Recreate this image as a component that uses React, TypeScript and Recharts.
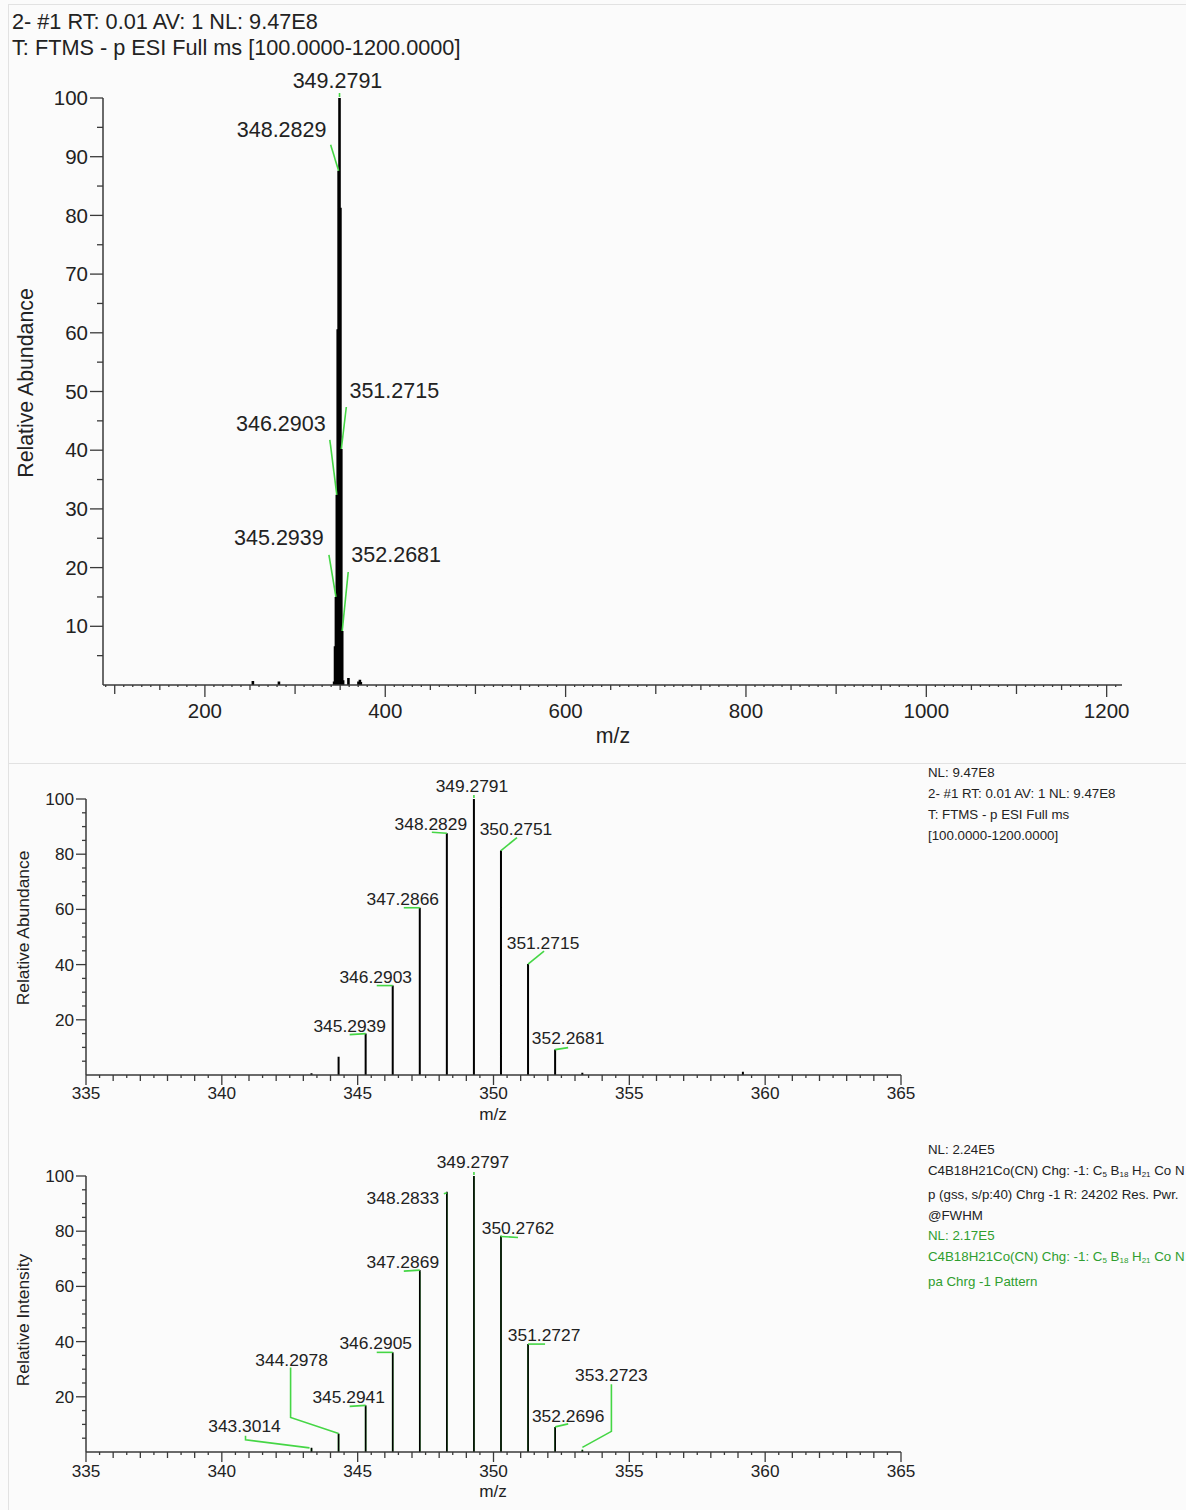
import React from "react";
import { ComposedChart, Line, Scatter, XAxis, YAxis } from "recharts";

const FONT = "'Liberation Sans', Arial, sans-serif";
const INK = "#222222";
const AXIS = "#3a3a3a";
const LEADER = "#45d645";
const GREEN_TEXT = "#2f9e2f";
const GREEN_STICK = "#30b830";

// full scan, relative abundance (NL 9.47E8)
const SCAN_MZ = [253.2, 282.1, 343.3, 344.2978, 345.2939, 346.2903, 347.2866, 348.2829, 349.2791, 350.2751, 351.2715, 352.2681, 353.27, 359.18, 370.3, 371.9, 372.9];
const SCAN_AB = [0.7, 0.6, 0.6, 6.6, 15.0, 32.4, 60.6, 87.6, 100, 81.3, 40.2, 9.2, 0.8, 1.2, 0.6, 0.9, 0.5];

// simulated profile (NL 2.24E5)
const SIM_MZ = [343.3014, 344.2978, 345.2941, 346.2905, 347.2869, 348.2833, 349.2797, 350.2762, 351.2727, 352.2696, 353.2723];
const SIM_INT = [1.5, 6.7, 16.9, 36.1, 65.9, 94.3, 100, 78.1, 39.1, 9.1, 0.6];

// isotope pattern (NL 2.17E5)
const PAT_MZ = [343.2995, 344.2958, 345.2922, 346.2886, 347.285, 348.2814, 349.2779, 350.2744, 351.2709, 352.2677, 353.2705];
const PAT_INT = [1.4, 6.5, 16.6, 35.7, 65.4, 94.0, 100, 78.4, 39.0, 9.0, 0.9];

// labelled peaks
const TOP_LABELS = [349.2791, 348.2829, 351.2715, 346.2903, 345.2939, 352.2681];
const ZOOM_LABELS = [349.2791, 348.2829, 350.2751, 347.2866, 351.2715, 346.2903, 345.2939, 352.2681];
const SIM_LABELS = [349.2797, 348.2833, 350.2762, 347.2869, 346.2905, 351.2727, 345.2941, 344.2978, 343.3014, 352.2696, 353.2723];

// tick labels
const TOP_X_LABELS = [200, 400, 600, 800, 1000, 1200];
const TOP_Y_LABELS = [10, 20, 30, 40, 50, 60, 70, 80, 90, 100];
const ZOOM_X_LABELS = [335, 340, 345, 350, 355, 360, 365];
const ZOOM_Y_LABELS = [20, 40, 60, 80, 100];

const range = (a: number, b: number, step: number) => {
  const out: number[] = [];
  for (let v = a; v <= b + 1e-9; v += step) out.push(Math.round(v * 100) / 100);
  return out;
};

type Pt = { mz: number; v: number | null };
const sticks = (mz: number[], ab: number[], lo = -Infinity, hi = Infinity): Pt[] =>
  mz.flatMap((m, i) =>
    m < lo || m > hi ? [] : [{ mz: m, v: 0 }, { mz: m, v: ab[i] }, { mz: m, v: null }]
  );

const labelPoints = (labels: number[], mz: number[], ab: number[]) =>
  labels.map((m, i) => ({ mz: m, v: ab[mz.indexOf(m)], i }));

// callout placement, pixel offsets from the peak top
type Callout = { path: number[][]; tx: number; ty: number };
const TOP_CALLOUTS: Callout[] = [
  { path: [[0, -1], [0, -5]], tx: -2, ty: -10 },
  { path: [[0, 0], [-8, -26]], tx: -57, ty: -34 },
  { path: [[0, 0], [5, -42]], tx: 53, ty: -51 },
  { path: [[0, 0], [-7, -55]], tx: -56, ty: -64 },
  { path: [[0, 0], [-7, -42]], tx: -57, ty: -52 },
  { path: [[0, 0], [6, -59]], tx: 54, ty: -69 },
];
const ZOOM_CALLOUTS: Callout[] = [
  { path: [[0, -1], [0, -4]], tx: -2, ty: -7 },
  { path: [[0, 0], [-15, -1]], tx: -16, ty: -3 },
  { path: [[0, 0], [16, -13]], tx: 15, ty: -16 },
  { path: [[0, 0], [-16, 0]], tx: -17, ty: -3 },
  { path: [[0, 0], [16, -13]], tx: 15, ty: -15 },
  { path: [[0, 0], [-16, 0]], tx: -17, ty: -3 },
  { path: [[0, 0], [-16, 1]], tx: -16, ty: -2 },
  { path: [[0, 0], [13, -2]], tx: 13, ty: -6 },
];
const SIM_CALLOUTS: Callout[] = [
  { path: [[0, -1], [0, -4]], tx: -1, ty: -8 },
  { path: [[0, 1], [-3, 2]], tx: -44, ty: 12 },
  { path: [[0, 0], [17, 1]], tx: 17, ty: -2 },
  { path: [[0, 0], [-16, 1]], tx: -17, ty: -2 },
  { path: [[0, 0], [-16, 0]], tx: -17, ty: -3 },
  { path: [[0, 0], [17, 0]], tx: 16, ty: -3 },
  { path: [[0, 0], [-16, 1]], tx: -17, ty: -2 },
  { path: [[0, 0], [-48, -16], [-48, -66]], tx: -47, ty: -68 },
  { path: [[-2, 0], [-66, -8], [-66, -12]], tx: -67, ty: -16 },
  { path: [[0, 0], [13, -3]], tx: 13, ty: -5 },
  { path: [[0, -3], [29, -19], [29, -66]], tx: 29, ty: -69 },
];

const calloutShape = (layout: Callout[], fontSize: number) => (props: any) => {
  const { cx, cy, payload } = props;
  const c = layout[payload.i];
  const pts = c.path.map(([dx, dy]) => `${cx + dx},${cy + dy}`).join(" ");
  return (
    <g>
      <polyline points={pts} fill="none" stroke={LEADER} strokeWidth={1.6} />
      <text x={cx + c.tx} y={cy + c.ty} textAnchor="middle" fontSize={fontSize} fill={INK} fontFamily={FONT}>
        {payload.mz.toFixed(4)}
      </text>
    </g>
  );
};

const xTick = (labels: number[], len: (v: number) => number, dy: number, fontSize: number) => (props: any) => {
  const { x, y, payload } = props;
  const v = payload.value;
  return (
    <g>
      <line x1={x} x2={x} y1={y} y2={y + len(v)} stroke={AXIS} strokeWidth={1.3} />
      {labels.includes(v) && (
        <text x={x} y={y + dy} textAnchor="middle" fontSize={fontSize} fill={INK} fontFamily={FONT}>
          {v}
        </text>
      )}
    </g>
  );
};

const yTick = (labels: number[], majorLen: number, minorLen: number, gap: number, fontSize: number) => (props: any) => {
  const { x, y, payload } = props;
  const v = payload.value;
  const major = labels.includes(v);
  return (
    <g>
      <line x1={x - (major ? majorLen : minorLen)} x2={x} y1={y} y2={y} stroke={AXIS} strokeWidth={1.3} />
      {major && (
        <text x={x - gap} y={y} dy="0.35em" textAnchor="end" fontSize={fontSize} fill={INK} fontFamily={FONT}>
          {v}
        </text>
      )}
    </g>
  );
};

const topXLen = (v: number) => (v % 200 === 0 ? 12 : v % 100 === 0 ? 9 : v % 50 === 0 ? 5 : 2);
const zoomXLen = (v: number) => (v % 5 === 0 ? 10 : Number.isInteger(v) ? 6 : 3);

const VTitle = ({ cx, cy, size, children }: any) => (
  <div
    style={{
      position: "absolute",
      left: cx,
      top: cy,
      transform: "translate(-50%,-50%) rotate(-90deg)",
      fontSize: size,
      whiteSpace: "nowrap",
      lineHeight: 1,
    }}
  >
    {children}
  </div>
);

const CTitle = ({ cx, cy, size, children }: any) => (
  <div
    style={{
      position: "absolute",
      left: cx,
      top: cy,
      transform: "translate(-50%,-50%)",
      fontSize: size,
      whiteSpace: "nowrap",
      lineHeight: 1,
    }}
  >
    {children}
  </div>
);

const sub = { fontSize: 8, verticalAlign: "-2px" } as const;

export default function App() {
  const axisLine = { stroke: AXIS, strokeWidth: 1.5 };

  return (
    <div
      style={{
        position: "absolute",
        left: 0,
        top: 0,
        width: 1186,
        height: 1510,
        background: "#fbfbfb",
        overflow: "hidden",
        fontFamily: FONT,
        color: INK,
      }}
    >
      {/* panel frame */}
      <div style={{ position: "absolute", left: 8, top: 4, width: 1, height: 1506, background: "#e2e2e2" }} />
      <div style={{ position: "absolute", left: 8, top: 4, width: 1178, height: 1, background: "#e2e2e2" }} />
      <div style={{ position: "absolute", left: 8, top: 763, width: 1178, height: 1, background: "#e2e2e2" }} />

      {/* header */}
      <div style={{ position: "absolute", left: 12, top: 9, fontSize: 21.7, lineHeight: "26px", whiteSpace: "nowrap" }}>
        2- #1 RT: 0.01 AV: 1 NL: 9.47E8
        <br />
        T: FTMS - p ESI Full ms [100.0000-1200.0000]
      </div>

      {/* full scan */}
      <div style={{ position: "absolute", left: 0, top: 0 }}>
        <ComposedChart width={1186} height={763} margin={{ top: 98, right: 64, bottom: 0, left: 0 }}>
          <XAxis
            dataKey="mz"
            type="number"
            domain={[87, 1217]}
            ticks={range(90, 1210, 10)}
            interval={0}
            tickSize={0}
            tickMargin={0}
            tickLine={false}
            axisLine={axisLine}
            height={78}
            tick={xTick(TOP_X_LABELS, topXLen, 33, 20.5)}
          />
          <YAxis
            type="number"
            domain={[0, 100]}
            ticks={range(5, 100, 5)}
            interval={0}
            tickSize={0}
            tickMargin={0}
            tickLine={false}
            axisLine={axisLine}
            width={103}
            tick={yTick(TOP_Y_LABELS, 13, 6, 15, 20.5)}
          />
          <Line
            data={sticks(SCAN_MZ, SCAN_AB)}
            dataKey="v"
            stroke="#000"
            strokeWidth={2.6}
            dot={false}
            activeDot={false}
            connectNulls={false}
            type="linear"
            isAnimationActive={false}
          />
          <Scatter
            data={labelPoints(TOP_LABELS, SCAN_MZ, SCAN_AB)}
            dataKey="v"
            shape={calloutShape(TOP_CALLOUTS, 21.5)}
            isAnimationActive={false}
          />
        </ComposedChart>
      </div>
      <VTitle cx={27} cy={383} size={21.3}>Relative Abundance</VTitle>
      <CTitle cx={613} cy={737} size={21.3}>m/z</CTitle>

      {/* zoomed scan */}
      <div style={{ position: "absolute", left: 0, top: 763 }}>
        <ComposedChart width={1186} height={372} margin={{ top: 36, right: 285, bottom: 0, left: 0 }}>
          <XAxis
            dataKey="mz"
            type="number"
            domain={[335, 365]}
            ticks={range(335, 365, 0.5)}
            interval={0}
            tickSize={0}
            tickMargin={0}
            tickLine={false}
            axisLine={axisLine}
            height={60}
            tick={xTick(ZOOM_X_LABELS, zoomXLen, 24, 17.2)}
          />
          <YAxis
            type="number"
            domain={[0, 100]}
            ticks={range(5, 100, 5)}
            interval={0}
            tickSize={0}
            tickMargin={0}
            tickLine={false}
            axisLine={axisLine}
            width={86}
            tick={yTick(ZOOM_Y_LABELS, 10, 4, 12, 17.2)}
          />
          <Line
            data={sticks(SCAN_MZ, SCAN_AB, 335, 365)}
            dataKey="v"
            stroke="#000"
            strokeWidth={2}
            dot={false}
            activeDot={false}
            connectNulls={false}
            type="linear"
            isAnimationActive={false}
          />
          <Scatter
            data={labelPoints(ZOOM_LABELS, SCAN_MZ, SCAN_AB)}
            dataKey="v"
            shape={calloutShape(ZOOM_CALLOUTS, 17.4)}
            isAnimationActive={false}
          />
        </ComposedChart>
      </div>
      <VTitle cx={24} cy={928} size={17.4}>Relative Abundance</VTitle>
      <CTitle cx={493} cy={1115} size={17.2}>m/z</CTitle>
      <div style={{ position: "absolute", left: 928, top: 762, fontSize: 13.3, lineHeight: "21px", whiteSpace: "nowrap" }}>
        NL: 9.47E8
        <br />
        2- #1 RT: 0.01 AV: 1 NL: 9.47E8
        <br />
        T: FTMS - p ESI Full ms
        <br />
        [100.0000-1200.0000]
      </div>

      {/* simulated vs pattern */}
      <div style={{ position: "absolute", left: 0, top: 1135 }}>
        <ComposedChart width={1186} height={375} margin={{ top: 41, right: 285, bottom: 0, left: 0 }}>
          <XAxis
            dataKey="mz"
            type="number"
            domain={[335, 365]}
            ticks={range(335, 365, 0.5)}
            interval={0}
            tickSize={0}
            tickMargin={0}
            tickLine={false}
            axisLine={axisLine}
            height={58}
            tick={xTick(ZOOM_X_LABELS, zoomXLen, 25, 17.2)}
          />
          <YAxis
            type="number"
            domain={[0, 100]}
            ticks={range(5, 100, 5)}
            interval={0}
            tickSize={0}
            tickMargin={0}
            tickLine={false}
            axisLine={axisLine}
            width={86}
            tick={yTick(ZOOM_Y_LABELS, 10, 4, 12, 17.2)}
          />
          <Line
            data={sticks(PAT_MZ, PAT_INT)}
            dataKey="v"
            stroke={GREEN_STICK}
            strokeWidth={1.6}
            dot={false}
            activeDot={false}
            connectNulls={false}
            type="linear"
            isAnimationActive={false}
          />
          <Line
            data={sticks(SIM_MZ, SIM_INT)}
            dataKey="v"
            stroke="#000"
            strokeWidth={1.6}
            dot={false}
            activeDot={false}
            connectNulls={false}
            type="linear"
            isAnimationActive={false}
          />
          <Scatter
            data={labelPoints(SIM_LABELS, SIM_MZ, SIM_INT)}
            dataKey="v"
            shape={calloutShape(SIM_CALLOUTS, 17.4)}
            isAnimationActive={false}
          />
        </ComposedChart>
      </div>
      <VTitle cx={24} cy={1320} size={17.4}>Relative Intensity</VTitle>
      <CTitle cx={493} cy={1492} size={17.2}>m/z</CTitle>
      <div style={{ position: "absolute", left: 928, top: 1140, fontSize: 13.3, lineHeight: "20.7px", whiteSpace: "nowrap" }}>
        NL: 2.24E5
        <br />
        C4B18H21Co(CN) Chg: -1: C<sub style={sub}>5</sub> B<sub style={sub}>18</sub> H<sub style={sub}>21</sub> Co N
        <br />
        p (gss, s/p:40) Chrg -1 R: 24202 Res. Pwr.
        <br />
        @FWHM
      </div>
      <div
        style={{
          position: "absolute",
          left: 928,
          top: 1225,
          fontSize: 13.3,
          lineHeight: "21px",
          whiteSpace: "nowrap",
          color: GREEN_TEXT,
        }}
      >
        NL: 2.17E5
        <br />
        C4B18H21Co(CN) Chg: -1: C<sub style={sub}>5</sub> B<sub style={sub}>18</sub> H<sub style={sub}>21</sub> Co N
        <br />
        pa Chrg -1 Pattern
      </div>
    </div>
  );
}
